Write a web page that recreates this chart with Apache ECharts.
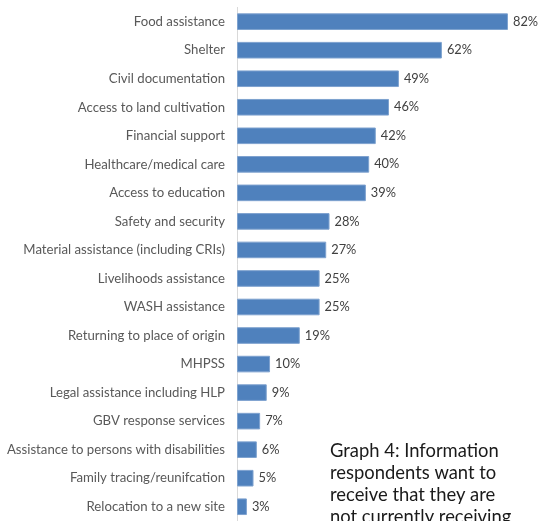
<!DOCTYPE html>
<html>
<head>
<meta charset="utf-8">
<script src="https://cdn.jsdelivr.net/npm/echarts@6/dist/echarts.min.js"></script>
<style>
  html, body { margin: 0; padding: 0; background: #fff; }
  #chart { width: 538px; height: 521px; }
</style>
</head>
<body>
<div id="chart"></div>
<script>
// Needs, top to bottom
const categories = [
  'Food assistance',
  'Shelter',
  'Civil documentation',
  'Access to land cultivation',
  'Financial support',
  'Healthcare/medical care',
  'Access to education',
  'Safety and security',
  'Material assistance (including CRIs)',
  'Livelihoods assistance',
  'WASH assistance',
  'Returning to place of origin',
  'MHPSS',
  'Legal assistance including HLP',
  'GBV response services',
  'Assistance to persons with disabilities',
  'Family tracing/reunifcation',
  'Relocation to a new site'
];
// Share of respondents (%)
const values = [82, 62, 49, 46, 42, 40, 39, 28, 27, 25, 25, 19, 10, 9, 7, 6, 5, 3];

const captionLines = [
  'Graph 4: Information',
  'respondents want to',
  'receive that they are',
  'not currently receiving'
];

const chart = echarts.init(document.getElementById('chart'), null, { renderer: 'canvas' });

chart.setOption({
  animation: false,
  grid: { left: 237, top: 7.4, width: 297.4, height: 517, containLabel: false },
  xAxis: {
    type: 'value', min: 0, max: 90,
    show: false
  },
  yAxis: {
    type: 'category',
    inverse: true,
    data: categories,
    axisLine: { show: true, lineStyle: { color: '#d9d9d9', width: 1 } },
    axisTick: { show: false },
    axisLabel: {
      margin: 12,
      color: '#595959',
      fontFamily: 'Lato',
      fontSize: 13.2
    }
  },
  series: [{
    type: 'bar',
    data: values,
    barWidth: 16.6,
    itemStyle: { color: '#4f81bd', borderColor: '#7ea2cf', borderWidth: 1 },
    label: {
      show: true,
      position: 'right',
      distance: 5,
      formatter: p => p.value + '%',
      color: '#404040',
      fontFamily: 'Lato',
      fontSize: 12.8
    }
  }],
  graphic: captionLines.map((t, i) => ({
    type: 'text',
    left: 330,
    top: 442.5 + i * 21.9,
    style: {
      text: t,
      fill: '#1a1a1a',
      font: '18.4px Lato'
    }
  }))
});
</script>
</body>
</html>
